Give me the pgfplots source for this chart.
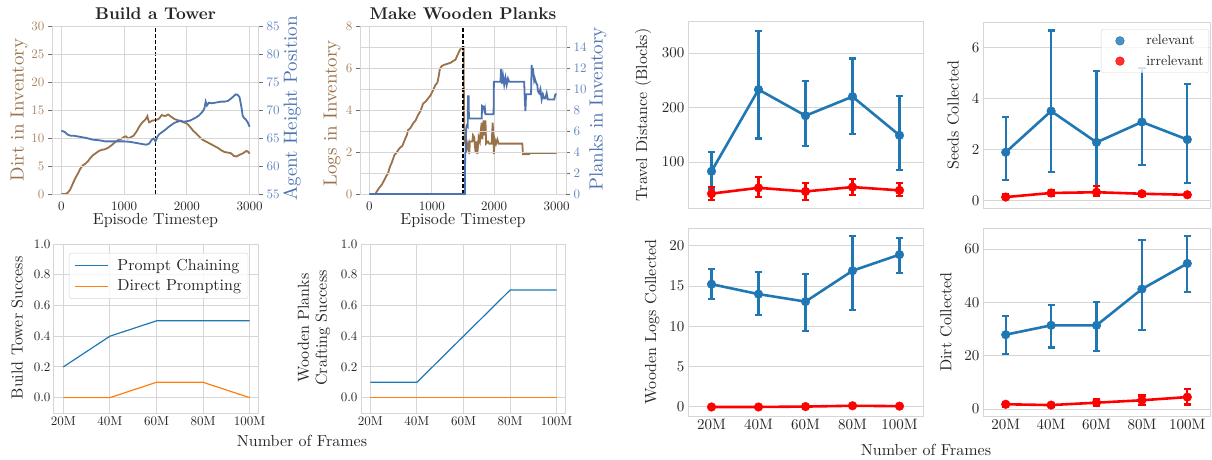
\documentclass[border=0pt]{standalone}
\usepackage{fontspec}
\setmainfont{lmroman10-regular.otf}[BoldFont=lmroman10-bold.otf, ItalicFont=lmroman10-italic.otf, BoldItalicFont=lmroman10-bolditalic.otf]
\usepackage{pgfplots}
\usepackage{pgfplotstable}
\pgfplotsset{compat=1.18}

\definecolor{tabblue}{RGB}{31,119,180}
\definecolor{taborange}{RGB}{255,127,14}
\definecolor{sred}{RGB}{255,0,0}
\definecolor{dbrown}{RGB}{154,114,74}
\definecolor{dbrownlab}{RGB}{154,114,74}
\definecolor{dbrowntick}{RGB}{172,134,98}
\definecolor{dblue}{RGB}{76,114,176}
\definecolor{dbluelab}{RGB}{76,114,176}
\definecolor{dbluetick}{RGB}{100,134,192}
\definecolor{gridc}{RGB}{214,214,214}
\definecolor{tickc}{RGB}{110,110,110}
\definecolor{txt}{RGB}{38,38,38}

% ---------- Build a Tower: dirt in inventory ----------
\pgfplotstableread{
t v
0 0
60 0
100 0.2
140 0.8
180 1.8
220 2.8
260 3.6
300 4.5
340 5.1
380 5.4
420 5.8
460 6.4
500 6.9
550 7.3
600 7.7
650 7.9
700 8.0
750 8.3
800 8.7
850 9.2
900 9.6
950 9.8
1000 10.2
1030 10.3
1060 9.9
1100 10.1
1150 10.4
1200 11.2
1250 12.2
1300 12.9
1340 13.3
1370 13.9
1385 13.2
1400 12.8
1450 13.1
1500 13.2
1530 13.3
1560 13.5
1600 14.1
1650 13.9
1700 14.2
1750 13.8
1800 13.4
1850 13.2
1900 13.0
1950 12.8
2000 12.6
2050 12.0
2100 11.3
2150 10.8
2200 10.2
2250 9.7
2300 9.4
2350 9.1
2400 8.8
2450 8.5
2500 8.2
2550 7.8
2600 7.5
2650 7.4
2700 7.3
2750 6.8
2790 6.7
2840 7.0
2900 7.3
2950 7.7
2980 7.5
3000 7.2
}\dirtdata

% ---------- Build a Tower: agent height ----------
\pgfplotstableread{
t v
0 66.3
50 66.1
100 65.6
150 65.4
200 65.4
300 65.2
400 65.0
500 64.7
600 64.6
700 64.4
800 64.4
900 64.4
1000 64.4
1100 64.3
1200 64.1
1300 63.9
1350 63.8
1400 64.0
1440 64.7
1470 64.9
1500 64.4
1530 65.2
1560 65.7
1600 66.0
1660 66.5
1700 66.9
1750 67.3
1800 67.7
1850 67.9
1900 68.1
1950 67.9
2000 68.0
2050 68.1
2100 68.4
2150 68.7
2200 69.1
2250 69.7
2280 70.3
2300 71.5
2320 70.8
2350 71.3
2400 71.2
2450 71.3
2500 71.4
2550 71.5
2600 71.5
2650 71.6
2700 72.0
2740 72.4
2780 72.8
2810 72.7
2840 72.3
2870 70.5
2890 69.0
2910 68.6
2940 68.3
2970 67.8
3000 67.0
}\heightdata

% ---------- Make Wooden Planks: logs ----------
\pgfplotstableread{
t v
0 0
100 0
110 0.08
160 0.3
200 0.45
240 0.67
270 0.85
300 1.0
330 1.3
360 1.5
400 1.85
430 1.95
480 2.17
530 2.3
565 2.57
600 2.8
620 3.04
660 3.15
700 3.36
740 3.5
780 3.76
820 3.95
860 4.3
900 4.4
940 4.55
980 4.7
1020 4.94
1060 5.2
1090 5.3
1110 5.6
1130 5.95
1160 6.1
1200 6.15
1250 6.2
1300 6.25
1350 6.35
1380 6.4
1410 6.6
1440 6.8
1470 6.95
1500 7.0
1510 7.0
1515 4.3
1525 2.4
1535 3.0
1545 2.0
1555 2.6
1570 2.2
1590 2.4
1600 1.9
1610 2.5
1650 2.5
1660 2.8
1680 2.7
1700 2.0
1710 2.5
1730 1.9
1750 2.7
1770 2.5
1780 2.9
1800 3.4
1810 2.6
1830 3.5
1850 2.8
1860 3.5
1870 2.4
1900 2.5
1920 2.4
1960 2.4
1975 3.4
1990 2.6
1995 1.9
2010 2.6
2030 2.4
2050 2.6
2070 2.4
2450 2.4
2460 1.9
2560 1.9
2570 1.95
3000 1.95
}\logsdata

% ---------- Make Wooden Planks: planks ----------
\pgfplotstableread{
t v
0 0
1530 0
1535 3.9
1545 4.0
1550 6.2
1560 6.5
1575 6.4
1580 9.3
1590 9.3
1595 7.2
1800 7.2
1805 8.4
1830 8.3
1840 8.0
1850 8.2
1860 7.6
1990 7.6
1995 10.7
2100 10.7
2110 11.9
2120 10.5
2140 11.3
2160 10.4
2180 11.1
2200 10.4
2220 11.0
2240 10.7
2480 10.7
2490 9.0
2500 7.9
2510 9.5
2590 9.5
2600 12.3
2610 11.2
2620 12.0
2640 10.8
2650 11.0
2670 10.6
2690 10.4
2700 9.8
2720 9.6
2740 10.0
2760 9.0
2780 9.5
2800 9.1
2820 9.1
2840 9.6
2860 9.0
2880 9.0
2960 9.0
2980 9.5
3000 9.5
}\planksdata

% ---------- point plots: x y error+ error- ----------
\pgfplotstableread{
x y ep em
0 83 35 33
1 233 108 90
2 185 64 55
3 220 70 69
4 149 72 64
}\travelrel
\pgfplotstableread{
x y ep em
0 42 12 11
1 52.6 20 16.6
2 46 16 15
3 54 15 14
4 48 13 11
}\travelirr
\pgfplotstableread{
x y ep em
0 1.90 1.40 1.09
1 3.52 3.17 2.41
2 2.29 2.79 1.99
3 3.09 2.13 1.68
4 2.40 2.19 1.70
}\seedsrel
\pgfplotstableread{
x y ep em
0 0.14 0.11 0.09
1 0.30 0.12 0.10
2 0.33 0.23 0.16
3 0.27 0.08 0.07
4 0.23 0.07 0.05
}\seedsirr
\pgfplotstableread{
x y ep em
0 15.23 1.87 1.83
1 14.0 2.7 2.6
2 13.07 3.43 3.69
3 16.9 4.3 4.9
4 18.9 2.05 2.3
}\logsrel
\pgfplotstableread{
x y ep em
0 0 0 0
1 0 0 0
2 0.05 0.05 0.05
3 0.15 0.1 0.1
4 0.1 0.08 0.08
}\logsirr
\pgfplotstableread{
x y ep em
0 27.9 7.0 7.3
1 31.4 7.6 8.3
2 31.4 8.9 9.6
3 45.0 18.4 15.4
4 54.6 10.3 10.8
}\dirtrel
\pgfplotstableread{
x y ep em
0 1.8 0.8 0.8
1 1.5 0.5 0.5
2 2.4 1.2 1.2
3 3.3 1.8 1.7
4 4.5 3.15 2.75
}\dirtirr

\pgfplotsset{
  every axis/.append style={
    scale only axis, anchor=south west,
    axis line style={gridc, line width=1pt},
    major grid style={gridc, line width=1pt},
    major tick length=0pt,
    /pgf/number format/assume math mode=true,
    /pgf/number format/1000 sep={},
    tick label style={text=txt},
  },
  lg/.style={tick label style={font=\fontsize{13}{15}\selectfont}},
  rg/.style={tick label style={font=\fontsize{15}{17}\selectfont}},
  ylab/.style={every axis y label/.style={at={(axis description cs:#1)}, rotate=90, anchor=center, font=\fontsize{16}{18}\selectfont, text=txt}},
  xlab/.style={every axis x label/.style={at={(axis description cs:#1)}, anchor=center, font=\fontsize{16}{18}\selectfont, text=txt}},
  ttl/.style={every axis title/.style={at={(axis description cs:0.5,1.071)}, anchor=center, font=\fontsize{17}{19}\selectfont\bfseries, text=txt}},
  twin/.style={lg, width=#1, height=168pt, xmin=-150, xmax=3150,
    tick align=outside, major tick length=4pt,
    xtick style={draw=none}, ytick style={draw=tickc, line width=0.8pt}},
  succ/.style={lg, width=205pt, height=169pt, xmin=16, xmax=104, ymin=-0.1, ymax=1.0,
    xtick={20,40,60,80,100}, xticklabels={20M,40M,60M,80M,100M},
    ytick={0,0.2,0.4,0.6,0.8,1},
    yticklabel style={/pgf/number format/.cd, fixed, fixed zerofill, precision=1},
    xmajorgrids, ymajorgrids},
  pp/.style={rg, xmin=-0.5, xmax=4.5, xtick={0,1,2,3,4}, ymajorgrids},
  ser/.style={#1, line width=2.6pt, mark=*, mark size=4.3pt, mark options={line width=0.5pt},
    /pgfplots/error bars/y dir=both, /pgfplots/error bars/y explicit, /pgfplots/error bars/error mark=|,
    /pgfplots/error bars/error bar style={#1, line width=2.2pt},
    /pgfplots/error bars/error mark options={#1, line width=2.2pt, mark size=3.6pt}},
  dotlegend/.style={legend image code/.code={\node[inner sep=0pt, minimum size=0pt] at (0pt,0pt) {}; \draw[##1, line width=0.5pt, only marks] plot coordinates {(16pt,0pt)};}},
}

\begin{document}
\begin{tikzpicture}
\useasboundingbox (0,0) rectangle (1212pt,459pt);

% ===== Build a Tower =====
\begin{axis}[twin=207pt, at={(52pt,265pt)},
  ymin=0, ymax=30, xtick={0,1000,2000,3000}, ytick={0,5,...,30},
  xmajorgrids, ymajorgrids, ytick pos=left,
  yticklabel style={text=dbrowntick},
  xlabel={Episode Timestep}, xlab={0.5,-0.16},
  ylabel={Dirt in Inventory},
  every axis y label/.style={at={(axis description cs:-0.159,0.5)}, rotate=90, anchor=center, font=\fontsize{19}{21}\selectfont, text=dbrownlab},
  title={Build a Tower}, ttl]
\addplot[dbrown, line width=1.8pt] table[x=t,y=v] {\dirtdata};
\addplot[black, line width=1.1pt, dash pattern=on 4pt off 2pt] coordinates {(1500,0) (1500,30)};
\end{axis}
\begin{axis}[twin=207pt, at={(52pt,265pt)},
  ymin=55, ymax=85, ytick={55,60,...,85},
  hide x axis, ymajorgrids, ytick pos=right, yticklabel pos=right,
  yticklabel style={text=dbluetick},
  ylabel={Agent Height Position},
  every axis y label/.style={at={(axis description cs:1.159,0.51)}, rotate=90, anchor=center, font=\fontsize{19}{21}\selectfont, text=dbluelab}]
\addplot[dblue, line width=1.8pt] table[x=t,y=v] {\heightdata};
\end{axis}

% ===== Make Wooden Planks =====
\begin{axis}[twin=206pt, at={(360pt,265pt)},
  ymin=0, ymax=8, xtick={0,1000,2000,3000}, ytick={0,2,...,8},
  xmajorgrids, ymajorgrids, ytick pos=left,
  yticklabel style={text=dbrowntick},
  xlabel={Episode Timestep}, xlab={0.5,-0.16},
  ylabel={Logs in Inventory},
  every axis y label/.style={at={(axis description cs:-0.136,0.48)}, rotate=90, anchor=center, font=\fontsize{19}{21}\selectfont, text=dbrownlab},
  title={Make Wooden Planks}, ttl]
\addplot[dbrown, line width=1.8pt] table[x=t,y=v] {\logsdata};
\addplot[black, line width=1.1pt, dash pattern=on 4pt off 2pt] coordinates {(1500,0) (1500,8)};
\end{axis}
\begin{axis}[twin=206pt, at={(360pt,265pt)},
  ymin=0, ymax=16, ytick={0,2,...,14},
  hide x axis, ymajorgrids, ytick pos=right, yticklabel pos=right,
  yticklabel style={text=dbluetick},
  ylabel={Planks in Inventory},
  every axis y label/.style={at={(axis description cs:1.155,0.506)}, rotate=90, anchor=center, font=\fontsize{19}{21}\selectfont, text=dbluelab}]
\addplot[dblue, line width=1.8pt] table[x=t,y=v] {\planksdata};
\end{axis}

% ===== Build Tower Success =====
\begin{axis}[succ, at={(54pt,46pt)},
  ylabel={Build Tower Success}, ylab={-0.18,0.503},
  legend style={at={(axis description cs:0.073,0.947)}, anchor=north west,
    draw=gridc, fill=white, fill opacity=0.8, text opacity=1, rounded corners=2pt,
    nodes={font=\fontsize{16}{18}\selectfont, text=txt}, inner xsep=5pt, inner ysep=4pt, row sep=4pt},
  legend cell align=left,
  legend image code/.code={\draw[#1] (0pt,0pt) -- (33pt,0pt);}]
\addplot[tabblue, line width=1.2pt] coordinates {(20,0.2) (40,0.4) (60,0.5) (80,0.5) (100,0.5)};
\addlegendentry{\hspace*{7pt}Prompt Chaining}
\addplot[taborange, line width=1.2pt] coordinates {(20,0) (40,0) (60,0.1) (80,0.1) (100,0)};
\addlegendentry{\hspace*{7pt}Direct Prompting}
\end{axis}

% ===== Wooden Planks Crafting Success =====
\begin{axis}[succ, at={(361pt,46pt)},
  ylabel={Wooden Planks\\Crafting Success}, ylab={-0.229,0.503},
  ylabel style={align=center}]
\addplot[tabblue, line width=1.2pt] coordinates {(20,0.1) (40,0.1) (60,0.4) (80,0.7) (100,0.7)};
\addplot[taborange, line width=1.2pt] coordinates {(20,0) (40,0) (60,0) (80,0) (100,0)};
\end{axis}

\node[font=\fontsize{16}{18}\selectfont, text=txt] at (302pt,18pt) {Number of Frames};

% ===== Travel Distance =====
\begin{axis}[pp, at={(688pt,251pt)}, width=235pt, height=186pt,
  ymin=15.6, ymax=357, ytick={100,200,300}, xticklabels={},
  ylabel={Travel Distance (Blocks)}, ylab={-0.191,0.5}]
\addplot[ser=tabblue] table[x=x, y=y, y error plus=ep, y error minus=em] {\travelrel};
\addplot[ser=sred] table[x=x, y=y, y error plus=ep, y error minus=em] {\travelirr};
\end{axis}

% ===== Seeds Collected =====
\begin{axis}[pp, at={(983pt,251pt)}, width=227pt, height=186pt,
  ymin=-0.29, ymax=7.02, ytick={0,2,4,6}, xticklabels={},
  ylabel={Seeds Collected}, ylab={-0.132,0.5},
  legend style={at={(axis description cs:0.996,0.962)}, anchor=north east,
    draw=gridc, fill=white, fill opacity=0.8, text opacity=1, rounded corners=2pt,
    nodes={font=\fontsize{14}{16}\selectfont, text=txt}, inner xsep=3pt, inner ysep=4pt, row sep=5pt},
  legend cell align=left, dotlegend]
\addplot[forget plot, ser=tabblue] table[x=x, y=y, y error plus=ep, y error minus=em] {\seedsrel};
\addplot[forget plot, ser=sred] table[x=x, y=y, y error plus=ep, y error minus=em] {\seedsirr};
\addlegendimage{mark=*, mark size=4.3pt, tabblue}
\addlegendentry{\hspace*{20pt}relevant}
\addlegendimage{mark=*, mark size=4.3pt, sred}
\addlegendentry{\hspace*{20pt}irrelevant}
\end{axis}

% ===== Wooden Logs Collected =====
\begin{axis}[pp, at={(688pt,43pt)}, width=235pt, height=188pt,
  ymin=-1.12, ymax=22.2, ytick={0,5,10,15,20}, xticklabels={20M,40M,60M,80M,100M},
  ylabel={Wooden Logs Collected}, ylab={-0.153,0.5}]
\addplot[ser=tabblue] table[x=x, y=y, y error plus=ep, y error minus=em] {\logsrel};
\addplot[ser=sred] table[x=x, y=y, y error plus=ep, y error minus=em] {\logsirr};
\end{axis}

% ===== Dirt Collected =====
\begin{axis}[pp, at={(983pt,43pt)}, width=227pt, height=188pt,
  ymin=-2.6, ymax=67.9, ytick={0,20,40,60}, xticklabels={20M,40M,60M,80M,100M},
  ylabel={Dirt Collected}, ylab={-0.163,0.5}]
\addplot[ser=tabblue] table[x=x, y=y, y error plus=ep, y error minus=em] {\dirtrel};
\addplot[ser=sred] table[x=x, y=y, y error plus=ep, y error minus=em] {\dirtirr};
\end{axis}

\node[font=\fontsize{16}{18}\selectfont, text=txt] at (926pt,9pt) {Number of Frames};
\end{tikzpicture}
\end{document}
